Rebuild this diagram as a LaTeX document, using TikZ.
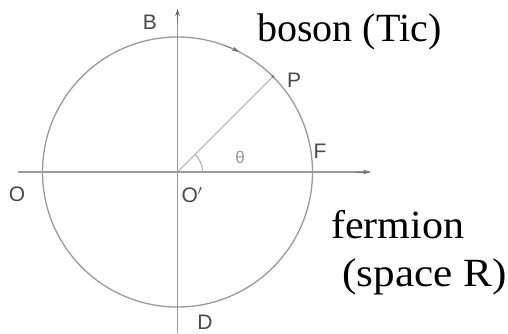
\documentclass[tikz,border=0pt]{standalone}
\usepackage{fontspec}
\setmainfont{Liberation Serif}
\newfontfamily\lblfont{Liberation Sans}
\usetikzlibrary{arrows.meta,calc}
\definecolor{linegray}{HTML}{9A9A9A}
\definecolor{lblgray}{HTML}{4A4A4A}
\tikzset{
  axisline/.style={draw=linegray, line width=1.8pt},
  circline/.style={draw=linegray, line width=1.3pt},
  radline/.style={draw=linegray!85, line width=1pt},
  tip/.style={-{Stealth[length=7pt,width=4.5pt]}, color=lblgray!80},
  lbl/.style={font=\lblfont\fontsize{21}{21}\selectfont, text=lblgray, inner sep=0pt},
  bigtext/.style={font=\fontsize{40}{40}\selectfont, text=black, inner sep=0pt, anchor=base west},
}
\begin{document}
\begin{tikzpicture}[x=1pt,y=-1pt]
\useasboundingbox (0,0) rectangle (508,333);
\coordinate (C) at (177.5,172);
\coordinate (L) at (18,172);
\coordinate (R) at (370,172);
\coordinate (T) at (177.5,9);
\coordinate (Bt) at (177.5,333);
\coordinate (P) at ($(C)+(-45:135)$);
% circle
\draw[circline] (C) circle[radius=135];
% axes
\draw[axisline] (L) -- (R);
\draw[axisline] (Bt) -- (T);
\draw[tip] ($(R)+(-14,0)$) -- (R);
\draw[tip] ($(T)+(0,14)$) -- (T);
% radius
\draw[radline] (C) -- (P);
% angle mark
\draw[radline] ($(C)+(25,0)$) arc[start angle=0, end angle=-45, radius=25];
% arrow on arc
\draw[tip] ($(C)+(-70:135)$) arc[start angle=-70, end angle=-63, radius=135];
\fill[lblgray!80] (P) circle[radius=1.5];
% labels
\node[lbl] (lB) at (150,22) {B};
\node[lbl] (lP) at (294,80) {P};
\node[lbl] (lF) at (320,151) {F};
\node[lbl] (lO) at (17,194) {O};
\node[lbl] (lOp) at (192,195) {O$'$};
\node[lbl] (lD) at (205,322) {D};
\node[lbl, text=linegray, font=\lblfont\fontsize{17}{17}\selectfont] (lth) at (240,157) {θ};
% big texts
\node[bigtext] (boson) at (257,41.5) {boson (Tic)};
\node[bigtext, xscale=1.05] (ferm) at (331,238) {fermion};
\node[bigtext, xscale=1.08] (space) at (342,286) {(space R)};
\end{tikzpicture}
\end{document}
